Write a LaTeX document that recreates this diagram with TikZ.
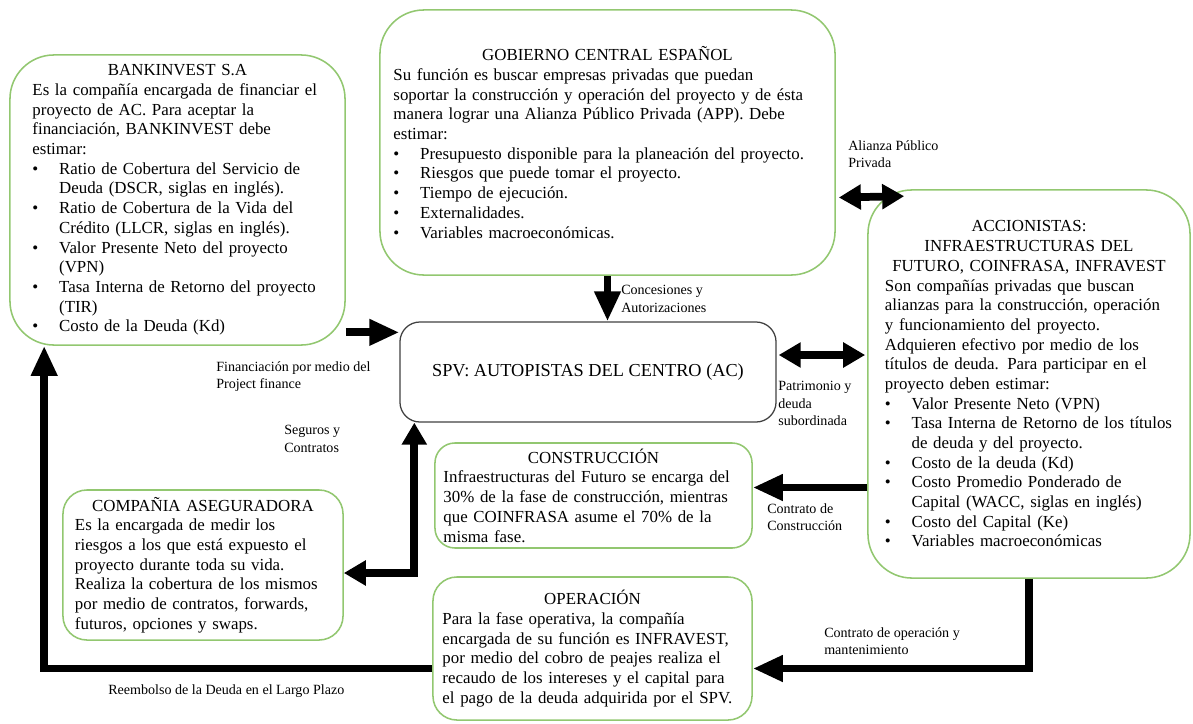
\documentclass[tikz,border=0pt]{standalone}
\usepackage{fontspec}
\setmainfont{Liberation Serif}
\usetikzlibrary{arrows.meta,calc}
\definecolor{boxgreen}{RGB}{146,199,112}
\newcommand{\bul}{\makebox[19pt][l]{\textbullet}}
\newcommand{\ind}{\hspace*{19pt}}
\newcommand{\ttl}[1]{\makebox[\linewidth]{#1}}

\begin{document}
\begin{tikzpicture}[x=0.025cm, y=-0.025cm,
		actor/.style={draw=boxgreen, line width=1.1pt, align=left, inner sep=0pt, font=\fontsize{12}{14}\selectfont},
		flow/.style={line width=5.5pt, -{Triangle[length=0.75cm,width=0.62cm]}},
		flowboth/.style={line width=5.5pt, {Triangle[length=0.55cm,width=0.6cm]}-{Triangle[length=0.55cm,width=0.6cm]}},
		lbl/.style={anchor=north west, align=left, inner sep=0pt, font=\fontsize{10}{12.5}\selectfont}]
		\useasboundingbox (0,0) rectangle (1193,724);

		\node[actor, rounded corners=1.1cm, minimum width=8.375cm, minimum height=7.25cm, text width=7.25cm] (bank) at (177.5, 200) {\ttl{BANKINVEST S.A}\\
			Es la compañía encargada de financiar el\\
			proyecto de AC. Para aceptar la\\
			financiación, BANKINVEST debe\\
			estimar:\\
			\bul Ratio de Cobertura del Servicio de\\
			\ind Deuda (DSCR, siglas en inglés).\\
			\bul Ratio de Cobertura de la Vida del\\
			\ind Crédito (LLCR, siglas en inglés).\\
			\bul Valor Presente Neto del proyecto\\
			\ind (VPN)\\
			\bul Tasa Interna de Retorno del proyecto\\
			\ind (TIR)\\
			\bul Costo de la Deuda (Kd)};
		\node[actor, rounded corners=1.1cm, minimum width=11.375cm, minimum height=6.625cm, text width=10.7cm] (gobierno) at (607.5, 142.5) {\ttl{GOBIERNO CENTRAL ESPAÑOL}\\
			Su función es buscar empresas privadas que puedan\\
			soportar la construcción y operación del proyecto y de ésta\\
			manera lograr una Alianza Público Privada (APP). Debe\\
			estimar:\\
			\bul Presupuesto disponible para la planeación del proyecto.\\
			\bul Riesgos que puede tomar el proyecto.\\
			\bul Tiempo de ejecución.\\
			\bul Externalidades.\\
			\bul Variables macroeconómicas.};
		\node[actor, rounded corners=1.1cm, minimum width=8.05cm, minimum height=9.7cm, text width=7.2cm] (accionistas) at (1029, 384) {\ttl{ACCIONISTAS:}\\
			\ttl{INFRAESTRUCTURAS DEL}\\
			\ttl{FUTURO, COINFRASA, INFRAVEST}\\
			Son compañías privadas que buscan\\
			alianzas para la construcción, operación\\
			y funcionamiento del proyecto.\\
			Adquieren efectivo por medio de los\\
			títulos de deuda. Para participar en el\\
			proyecto deben estimar:\\
			\bul Valor Presente Neto (VPN)\\
			\bul Tasa Interna de Retorno de los títulos\\
			\ind de deuda y del proyecto.\\
			\bul Costo de la deuda (Kd)\\
			\bul Costo Promedio Ponderado de\\
			\ind Capital (WACC, siglas en inglés)\\
			\bul Costo del Capital (Ke)\\
			\bul Variables macroeconómicas};
		\node[draw=black!75, line width=0.9pt, rounded corners=0.5cm, minimum width=9.4cm, minimum height=2.5cm, font=\fontsize{13}{15}\selectfont] (spv) at (588, 372) {SPV: AUTOPISTAS DEL CENTRO (AC)};
		\node[actor, rounded corners=0.5cm, minimum width=7.925cm, minimum height=2.625cm, text width=7.5cm] (construccion) at (593.5, 495.5) {\ttl{CONSTRUCCIÓN}\\
			Infraestructuras del Futuro se encarga del\\
			30\% de la fase de construcción, mientras\\
			que COINFRASA asume el 70\% de la\\
			misma fase.};
		\node[actor, rounded corners=0.6cm, minimum width=7cm, minimum height=3.75cm, text width=6.4cm] (aseguradora) at (203, 565) {\ttl{COMPAÑIA ASEGURADORA}\\
			Es la encargada de medir los\\
			riesgos a los que está expuesto el\\
			proyecto durante toda su vida.\\
			Realiza la cobertura de los mismos\\
			por medio de contratos, forwards,\\
			futuros, opciones y swaps.};
		\node[actor, rounded corners=0.6cm, minimum width=7.975cm, minimum height=3.575cm, text width=7.5cm] (operacion) at (592.5, 648.5) {\ttl{OPERACIÓN}\\
			Para la fase operativa, la compañía\\
			encargada de su función es INFRAVEST,\\
			por medio del cobro de peajes realiza el\\
			recaudo de los intereses y el capital para\\
			el pago de la deuda adquirida por el SPV.};

		\node[lbl] (financiacion) at (216, 361) {Financiación por medio del\\Project finance};
		\node[lbl] (concesiones) at (621, 285) {Concesiones y\\Autorizaciones};
		\node[lbl] (patrimonio) at (778, 381) {Patrimonio y\\deuda\\subordinada};
		\node[lbl] (seguros) at (284, 425) {Seguros y\\Contratos};
		\node[lbl] (alianza) at (848, 140) {Alianza Público\\Privada};
		\node[lbl] (contratoc) at (767, 503) {Contrato de\\Construcción};
		\node[lbl] (contratoo) at (824, 627) {Contrato de operación y\\mantenimiento};
		\node[lbl] (reembolso) at (108, 684) {Reembolso de la Deuda en el Largo Plazo};

		\coordinate (spvin) at ($(spv.north west)+(0,11)$);
		\draw[flow] (bank.east |- spvin) -- (spvin);
		\draw[flow] (gobierno.south) -- (gobierno.south |- spv.north);
		\draw[flowboth] ($(spv.east)+(2,-17)$) -- ($(spv.east -| accionistas.west)+(-2,-17)$);
		\draw[flowboth] ($(gobierno.east)+(3,55)$) -- ($(accionistas.north west)+(37,7)$);
		\draw[flowboth] ($(aseguradora.east)+(0,8)$) -| ($(spv.south west)+(15,0)$);
		\draw[flow] ($(accionistas.west |- construccion.east)+(0,-8)$) -- ($(construccion.east)+(0,-8)$);
		\draw[flow] (accionistas.south) |- ($(operacion.east)+(0,20)$);
		\draw[flow] ($(operacion.west)+(0,20)$) -| ($(bank.south west)+(35,0)$);
	\end{tikzpicture}
\end{document}
